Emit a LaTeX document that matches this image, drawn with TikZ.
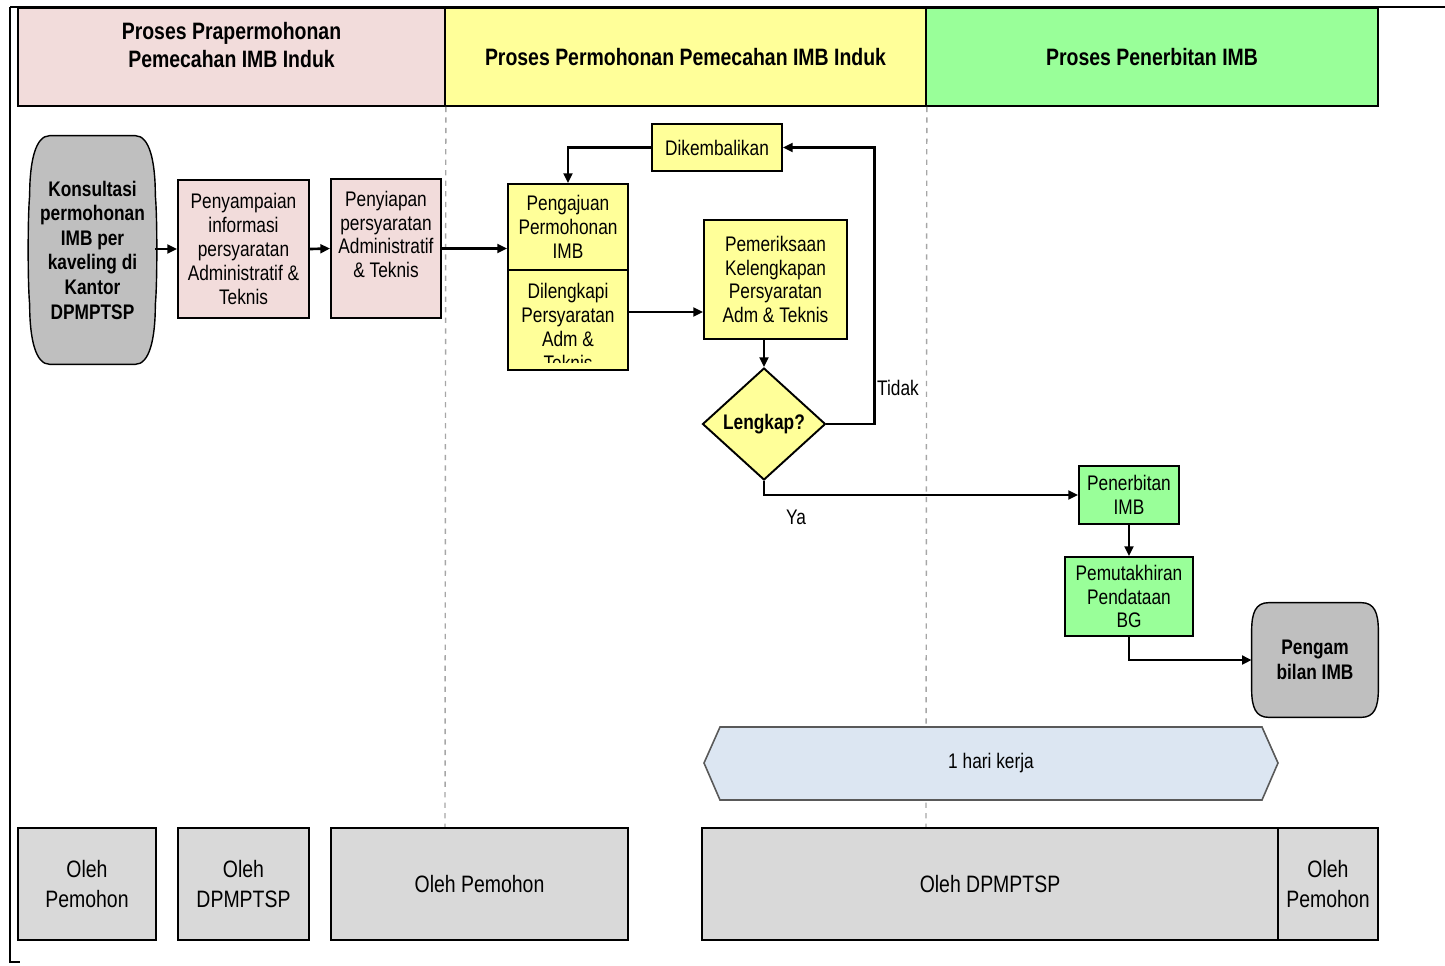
\documentclass[tikz,border=0pt]{standalone}
\usepackage{fontspec}
\setmainfont{Liberation Sans}[FakeStretch=0.82]
\usetikzlibrary{calc, positioning, arrows.meta, shapes.geometric, backgrounds}

\definecolor{pinkhdr}{HTML}{F2DCDB}
\definecolor{yellowhdr}{HTML}{FFFF99}
\definecolor{greenhdr}{HTML}{99FF99}
\definecolor{termgray}{HTML}{BFBFBF}
\definecolor{olehgray}{HTML}{D9D9D9}
\definecolor{barblue}{HTML}{DCE6F2}
\definecolor{lanegray}{HTML}{A6A6A6}

\begin{document}
\begin{tikzpicture}[x=0.02cm, y=-0.02cm,
  txt/.style={inner sep=0pt, align=center, font=\fontsize{12}{13.6}\selectfont},
  boldtxt/.style={txt, font=\fontsize{12}{14}\selectfont\bfseries},
  hdrbox/.style={draw=black, line width=1pt, inner sep=0pt, minimum height=1.96cm,
                 align=center, font=\fontsize{13.5}{15.9}\selectfont\bfseries},
  box/.style={txt, draw=black, line width=1.1pt},
  pinkbox/.style={box, fill=pinkhdr},
  yellowbox/.style={box, fill=yellowhdr},
  greenbox/.style={box, fill=greenhdr},
  olehbox/.style={draw=black, line width=1pt, fill=olehgray, inner sep=0pt,
                  minimum height=2.24cm, align=center,
                  font=\fontsize{13.5}{17}\selectfont},
  termshape/.style={draw=black, line width=0.8pt, fill=termgray},
  lane/.style={lanegray, line width=0.8pt, dashed},
  arr/.style={line width=1.5pt, -{Triangle[length=5.5pt,width=5pt]}}
]
  \useasboundingbox (0,0) rectangle (1445,965);

  % --- Cadre ---
  \draw[line width=1.6pt] (10,7) -- (1445,7);
  \draw[line width=1pt] (10,7) -- (10,962) -- (20,962);

  % --- En-tetes des couloirs ---
  \node[hdrbox, fill=pinkhdr, minimum width=8.54cm] (hdrA) at (231.5,57) {};
  \node[hdrbox, draw=none] (hdrAtxt) at (231.5,45) {Proses Prapermohonan\\Pemecahan IMB Induk};
  \node[hdrbox, fill=yellowhdr, minimum width=9.62cm] (hdrB) at (685.5,57)
    {Proses Permohonan Pemecahan IMB Induk};
  \node[hdrbox, fill=greenhdr, minimum width=9.04cm] (hdrC) at (1152,57)
    {Proses Penerbitan IMB};

  % --- Separateurs ---
  \draw[lane] (hdrA.south east) -- (445,828);
  \draw[lane] (hdrB.south east) -- (926,828);

  % --- Prapermohonan ---
  \node[boldtxt, minimum width=2.5cm, minimum height=4.56cm] (konsul) at (92.5,250)
    {Konsultasi\\permohonan\\IMB per\\kaveling di\\Kantor\\DPMPTSP};
  \node[pinkbox, minimum width=2.62cm, minimum height=2.76cm] (sampai) at (243.5,249)
    {Penyampaian\\informasi\\persyaratan\\Administratif \&\\Teknis};
  \node[pinkbox, minimum width=2.2cm, minimum height=2.78cm] (siap) at (386,248.5) {};
  \node[txt] (siaptxt) at (386,234.5) {Penyiapan\\persyaratan\\Administratif\\\& Teknis};

  % --- Permohonan ---
  \node[yellowbox, minimum width=2.4cm, minimum height=1.72cm] (ajuan) at (568,227)
    {Pengajuan\\Permohonan\\IMB};
  \node[yellowbox, minimum width=2.4cm, minimum height=2cm] (lengkapi) at (568,320) {};
  \begin{scope}
    \clip (509,271) rectangle (627,362);
    \node[txt] (lengkapitxt) at (568,327) {Dilengkapi\\Persyaratan\\Adm \&\\Teknis};
  \end{scope}
  \node[yellowbox, minimum width=2.6cm, minimum height=0.94cm] (kembali) at (717,147.5)
    {Dikembalikan};
  \node[yellowbox, minimum width=2.86cm, minimum height=2.38cm] (periksa) at (775.5,279.5)
    {Pemeriksaan\\Kelengkapan\\Persyaratan\\Adm \& Teknis};
  \node[yellowbox, diamond, boldtxt, draw=black, line width=1.1pt,
        minimum width=2.46cm, minimum height=2.24cm] (cek) at (764,424) {Lengkap?};

  % --- Penerbitan ---
  \node[greenbox, minimum width=2cm, minimum height=1.16cm] (terbit) at (1129,495)
    {Penerbitan\\IMB};
  \node[greenbox, minimum width=2.56cm, minimum height=1.58cm] (mutakhir) at (1129,596.5)
    {Pemutakhiran\\Pendataan\\BG};
  \node[boldtxt, minimum width=2.52cm, minimum height=2.28cm] (ambil) at (1315,660)
    {Pengam\\bilan IMB};

  % --- Formes terminales (arriere-plan) ---
  \begin{scope}[on background layer]
    \filldraw[termshape]
      ($(konsul.north west)+(20,0)$) -- ($(konsul.north east)+(-20,0)$)
      .. controls ($(konsul.north east)+(-6,0)$) and ($(konsul.north east)+(0,25)$) .. ($(konsul.north east)+(0,60)$)
      .. controls ($(konsul.north east)+(2,80)$) and ($(konsul.south east)+(2,-80)$) .. ($(konsul.south east)+(0,-60)$)
      .. controls ($(konsul.south east)+(0,-25)$) and ($(konsul.south east)+(-6,0)$) .. ($(konsul.south east)+(-20,0)$)
      -- ($(konsul.south west)+(20,0)$)
      .. controls ($(konsul.south west)+(6,0)$) and ($(konsul.south west)+(0,-25)$) .. ($(konsul.south west)+(0,-60)$)
      .. controls ($(konsul.south west)+(-2,-80)$) and ($(konsul.north west)+(-2,80)$) .. ($(konsul.north west)+(0,60)$)
      .. controls ($(konsul.north west)+(0,25)$) and ($(konsul.north west)+(6,0)$) .. cycle;
    \filldraw[termshape]
      ($(ambil.north west)+(17,0)$) -- ($(ambil.north east)+(-17,0)$)
      .. controls ($(ambil.north east)+(-4,0)$) and ($(ambil.north east)+(0,10)$) .. ($(ambil.north east)+(0,28)$)
      -- ($(ambil.south east)+(0,-28)$)
      .. controls ($(ambil.south east)+(0,-10)$) and ($(ambil.south east)+(-4,0)$) .. ($(ambil.south east)+(-17,0)$)
      -- ($(ambil.south west)+(17,0)$)
      .. controls ($(ambil.south west)+(4,0)$) and ($(ambil.south west)+(0,-10)$) .. ($(ambil.south west)+(0,-28)$)
      -- ($(ambil.north west)+(0,28)$)
      .. controls ($(ambil.north west)+(0,10)$) and ($(ambil.north west)+(4,0)$) .. cycle;
  \end{scope}

  % --- Fleches ---
  \draw[arr] (konsul.east |- sampai.west) -- (sampai.west);
  \draw[arr] (sampai.east) -- (siap.west);
  \draw[arr] (siap.east) -- (siap.east -| ajuan.west);
  \draw[arr] (kembali.west) -| (ajuan.north);
  \draw[arr] ([yshift=0.16cm]lengkapi.east) -- ([yshift=0.16cm]lengkapi.east -| periksa.west);
  \draw[arr] (periksa.south -| cek.north) -- (cek.north);
  \draw[arr] (cek.east) -- ++(48,0) |- (kembali.east);
  \draw[arr] (cek.south) |- (terbit.west);
  \draw[arr] (terbit.south) -- (mutakhir.north);
  \draw[arr] (mutakhir.south) |- (ambil.west);

  \node[txt] (tidak) at (898,388) {Tidak};
  \node[txt] (ya) at (796,517) {Ya};

  % --- Duree ---
  \filldraw[fill=barblue, draw=black!65, line width=0.9pt]
    (704,763) -- (720,727) -- (1262,727) -- (1278,763) -- (1262,800) -- (720,800) -- cycle;
  \node[txt] (durasi) at (991,763) {1 hari kerja};

  % --- Pelaksana ---
  \node[olehbox, minimum width=2.76cm] (oleh1) at (87,884) {Oleh\\Pemohon};
  \node[olehbox, minimum width=2.62cm] (oleh2) at (243.5,884) {Oleh\\DPMPTSP};
  \node[olehbox, minimum width=5.94cm] (oleh3) at (479.5,884) {Oleh Pemohon};
  \node[olehbox, minimum width=11.52cm] (oleh4) at (990,884) {Oleh DPMPTSP};
  \node[olehbox, minimum width=2cm] (oleh5) at (1328,884) {Oleh\\Pemohon};

\end{tikzpicture}
\end{document}
